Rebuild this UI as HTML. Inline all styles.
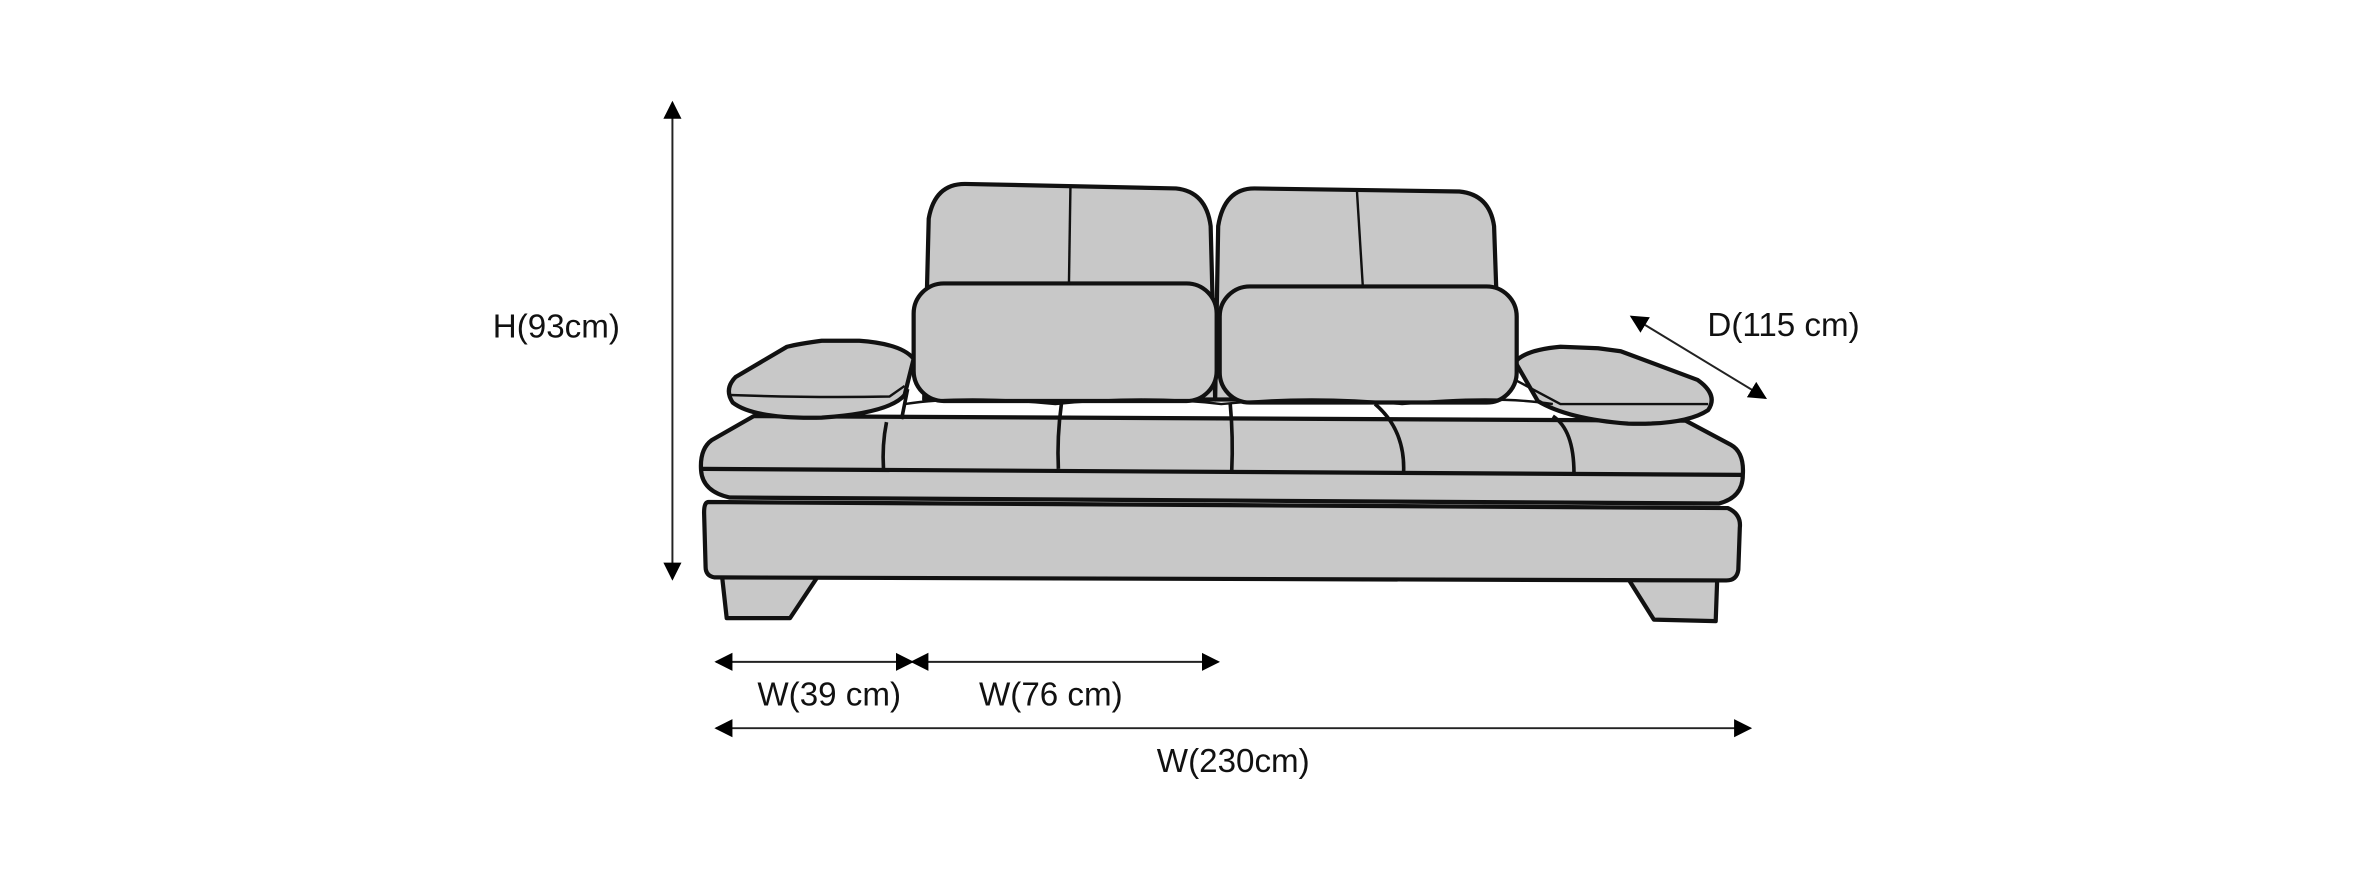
<!DOCTYPE html>
<html><head><meta charset="utf-8"><style>
html,body{margin:0;padding:0;background:#fff;}
svg{display:block}
text{font-family:"Liberation Sans Narrow","Liberation Sans",sans-serif;fill:#111;}
</style></head><body>
<svg width="2364" height="891" viewBox="0 0 1568 591" xmlns="http://www.w3.org/2000/svg">
<defs>
<marker id="a" viewBox="0 0 10 10" refX="9" refY="5" markerWidth="12" markerHeight="14" markerUnits="userSpaceOnUse" orient="auto-start-reverse">
<path d="M0,0 L10,5 L0,10 z" fill="#000"/></marker>
</defs>
<g fill="#c8c8c8" stroke="#111" stroke-width="2.8" stroke-linejoin="round">
<path d="M479,383 L542,383 L524,410 L482,410 Z"/>
<path d="M1080,384 L1139,384 L1138,412 L1097,411 Z"/>
<path d="M470,333 L1146,337 Q1155,341 1154,350 L1153,378 Q1152,385 1145,385 L474,383 Q468,382 468,376 L467,340 Q467,333 470,333 Z"/>
<path d="M500,276 L1118,279 L1148,295 Q1157,300 1156,315 Q1156,330 1140,334 L484,330 Q466,326 465,312 Q464,298 472,292 Z"/>
<line x1="466" y1="311" x2="1155" y2="315"/>
<path d="M613,265 L616,145 Q620,122 640,122 L780,125 Q800,127 803,150 L806,265 Z"/>
<path d="M806,265 L808,150 Q812,125 832,125 L968,127 Q988,129 991,150 L995,265 Z"/>
<path d="M606,238 Q598,228 570,226 L545,226 Q530,228 522,230 L488,250 Q480,258 486,267 Q500,278 545,277 Q590,274 600,262 Z"/>
<path d="M1005,240 Q1012,232 1035,230 L1060,231 L1075,233 L1126,252 Q1140,262 1133,272 Q1118,282 1080,281 Q1040,278 1020,266 Z"/>
<rect x="606" y="188" width="201" height="78" rx="20"/>
<rect x="809" y="190" width="197" height="77" rx="20"/>
</g>
<g fill="none" stroke="#111" stroke-width="1.6">
<line x1="710" y1="124" x2="709" y2="189"/>
<line x1="900" y1="126" x2="904" y2="191"/>
<path d="M484,262 Q540,264 590,263 L600,256"/>
<path d="M1005,252 L1035,268 L1133,268"/>
<path d="M600,268 Q640,262 700,268 Q760,262 810,268 Q870,262 930,268 Q990,262 1030,268"/>
</g>
<g fill="none" stroke="#111" stroke-width="2.4">
<path d="M588,280 Q585,295 586,311"/>
<path d="M704,268 Q701,290 702,311"/>
<path d="M816,268 Q818,290 817,312"/>
<path d="M912,268 Q932,285 931,313"/>
<path d="M1030,276 Q1044,285 1044,314"/>
<line x1="602" y1="258" x2="598" y2="278"/>
</g>
<g stroke="#222" stroke-width="1.3">
<line x1="446" y1="68" x2="446" y2="384" marker-start="url(#a)" marker-end="url(#a)"/>
<line x1="1082" y1="210" x2="1171" y2="264" marker-start="url(#a)" marker-end="url(#a)"/>
<line x1="475" y1="439" x2="605" y2="439" marker-start="url(#a)" marker-end="url(#a)"/>
<line x1="605" y1="439" x2="808" y2="439" marker-start="url(#a)" marker-end="url(#a)"/>
<line x1="475" y1="483" x2="1161" y2="483" marker-start="url(#a)" marker-end="url(#a)"/>
</g>
<g font-size="22" text-anchor="middle">
<text x="369" y="224">H(93cm)</text>
<text x="1183" y="223">D(115 cm)</text>
<text x="550" y="468">W(39 cm)</text>
<text x="697" y="468">W(76 cm)</text>
<text x="818" y="512">W(230cm)</text>
</g>
</svg>
</body></html>
